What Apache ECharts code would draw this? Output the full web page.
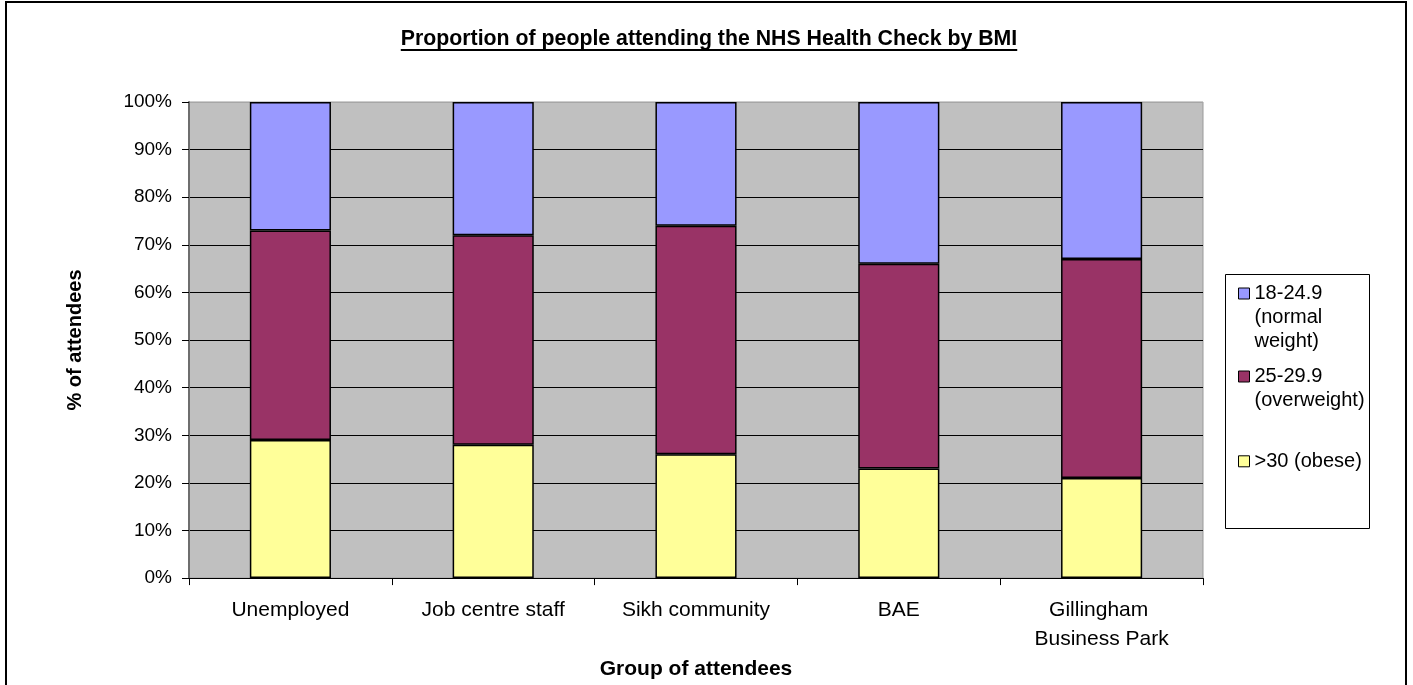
<!DOCTYPE html>
<html><head><meta charset="utf-8">
<script src="https://cdn.jsdelivr.net/npm/echarts@6/dist/echarts.min.js"></script>
<style>html,body{margin:0;padding:0;background:#fff}#c{width:1413px;height:685px}</style>
</head><body><div id="c"></div>
<script>
const titleText = 'Proportion of people attending the NHS Health Check by BMI';
const categories = ['Unemployed', 'Job centre staff', 'Sikh community', 'BAE', 'Gillingham Business Park'];
const seriesNames = ['>30 (obese)', '25-29.9 (overweight)', '18-24.9 (normal weight)'];
const legendLabels = ['>30 (obese)', '25-29.9\n(overweight)', '18-24.9\n(normal\nweight)'];
const obese = [29, 28, 26, 23, 21];
const overweight = [44, 44, 48, 43, 46];
const normalWeight = [27, 28, 26, 34, 33];
const yAxisName = '% of attendees';
const xAxisName = 'Group of attendees';

const FONT = '"Liberation Sans", Arial, Helvetica, sans-serif';
const colors = ['#FFFF99', '#993366', '#9999FF'];
const values = [obese, overweight, normalWeight];
const TITLE_SIZE = 21.3;

const ctx = document.createElement('canvas').getContext('2d');
ctx.font = 'bold ' + TITLE_SIZE + 'px "Liberation Sans", Arial, sans-serif';
const tw = ctx.measureText(titleText).width;
const titleCx = 709;

const chart = echarts.init(document.getElementById('c'), null, {renderer: 'canvas'});

const legendCenters = [461.3, 376.5, 293.5];
const legends = seriesNames.map((name, i) => {
  const lbl = legendLabels[i];
  const n = lbl.split('\n').length;
  const shown = '\n'.repeat(n - 1) + lbl;
  const iconTop = legendCenters[i] - 5.5;
  return {
    orient: 'vertical',
    left: 1238,
    top: iconTop - 24 * n + 17.5,
    padding: 0,
    itemWidth: 11,
    itemHeight: 11,
    selectedMode: false,
    data: [name],
    icon: 'rect',
    itemStyle: {borderColor: '#000', borderWidth: 1},
    formatter: () => shown,
    textStyle: {fontFamily: FONT, fontSize: 20, color: '#000', lineHeight: 24}
  };
});

const splitColors = [];
for (let k = 0; k <= 10; k++) splitColors.push(k === 10 ? '#a6a6a6' : '#000');

const option = {
  animation: false,
  backgroundColor: '#fff',
  title: {
    text: titleText,
    left: titleCx - tw / 2 - 5,
    top: 23.8,
    textStyle: {fontFamily: FONT, fontSize: TITLE_SIZE, fontWeight: 'bold', color: '#000'}
  },
  legend: legends,
  grid: {
    left: 189, right: 210, top: 102, bottom: 106,
    show: true, backgroundColor: '#C0C0C0', borderColor: '#9a9a9a', borderWidth: 1
  },
  xAxis: {
    type: 'category',
    data: categories,
    name: xAxisName,
    nameLocation: 'middle',
    nameGap: 78,
    nameTextStyle: {fontFamily: FONT, fontSize: 21, fontWeight: 'bold', color: '#000'},
    axisLine: {lineStyle: {color: '#000', width: 1}},
    axisTick: {show: true, length: 7, lineStyle: {color: '#000'}},
    axisLabel: {
      fontFamily: FONT, fontSize: 21, color: '#000', margin: 18, lineHeight: 29,
      width: 180, overflow: 'break', interval: 0
    }
  },
  yAxis: {
    type: 'value',
    min: 0, max: 100, interval: 10,
    name: yAxisName,
    nameLocation: 'middle',
    nameRotate: 90,
    nameGap: 104,
    nameTextStyle: {fontFamily: FONT, fontSize: 20, fontWeight: 'bold', color: '#000'},
    axisLine: {show: true, lineStyle: {color: '#6e6e6e', width: 2}},
    axisTick: {show: true, length: 7, lineStyle: {color: '#000'}},
    axisLabel: {fontFamily: FONT, fontSize: 19, color: '#000', margin: 17, formatter: '{value}%'},
    splitLine: {show: true, lineStyle: {color: splitColors, width: 1}}
  },
  series: seriesNames.map((name, i) => ({
    name: name,
    type: 'bar',
    stack: 'bmi',
    barWidth: '40%',
    data: values[i],
    itemStyle: {color: colors[i], borderColor: '#000', borderWidth: 1.5},
    emphasis: {disabled: true}
  })),
  graphic: [
    {type: 'rect', silent: true, shape: {x: 6, y: 2, width: 1400, height: 700},
     style: {fill: null, stroke: '#000', lineWidth: 2}},
    {type: 'line', silent: true, shape: {x1: titleCx - tw / 2, y1: 50, x2: titleCx + tw / 2, y2: 50},
     style: {stroke: '#000', lineWidth: 2}},
    {type: 'rect', silent: true, shape: {x: 1225.5, y: 274.5, width: 144, height: 254},
     style: {fill: null, stroke: '#000', lineWidth: 1}}
  ]
};
chart.setOption(option);
</script>
</body></html>
